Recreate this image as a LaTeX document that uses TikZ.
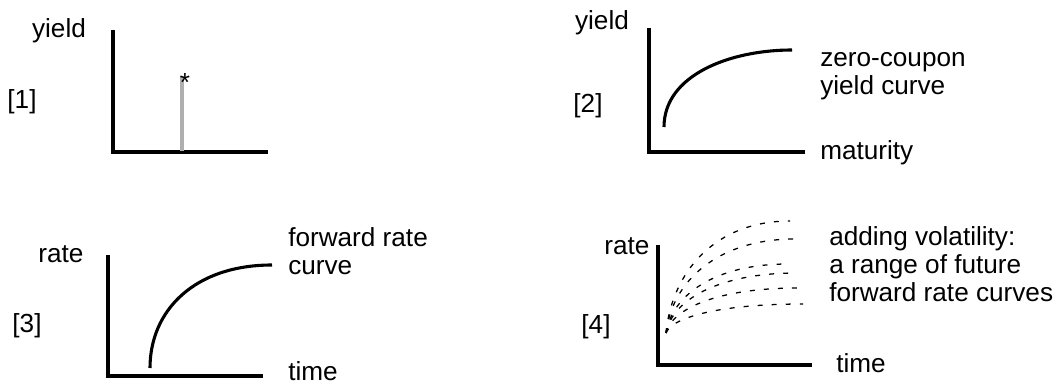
\documentclass[tikz,border=0pt]{standalone}
\usepackage{fontspec}
\setmainfont{Liberation Sans}
\usetikzlibrary{positioning}
\definecolor{stemGray}{RGB}{175,175,175}

\begin{document}
\begin{tikzpicture}[x=0.025cm, y=-0.025cm,
    lbl/.style={inner sep=0pt, font=\fontsize{18.6}{20.2}\selectfont},
    axis/.style={line width=2.8pt, line join=miter},
    curve/.style={line width=2.2pt},
    spread/.style={line width=0.9pt, dash pattern=on 3.5pt off 6.5pt}]
  \useasboundingbox (0,0) rectangle (1058,385);

  % [1] a single yield
  \coordinate (o1) at (113,152);
  \draw[axis] (113,30) -- (o1) -- (268,152);
  \coordinate (s1) at (182,151);
  \coordinate (t1) at (182,76);
  \draw[stemGray, line width=2.8pt] (s1) -- (t1);
  \node[lbl] (star) at (185,83) {*};
  \node[lbl] (y1) at (59,31) {yield};
  \node[lbl] (n1) at (22,102) {[1]};

  % [2] zero-coupon yield curve
  \coordinate (o2) at (649,152);
  \draw[axis] (649,28) -- (o2) -- (805,152);
  \coordinate (a2) at (664,127);
  \coordinate (b2) at (792,50);
  \draw[curve] (a2) .. controls (664,75) and (730,50) .. (b2);
  \node[lbl] (y2) at (602,23) {yield};
  \node[lbl] (n2) at (588,106) {[2]};
  \node[lbl, anchor=base west, align=left] (zc) at (820,95) {zero-coupon\\yield curve};
  \node[lbl, anchor=base west] (mat) at (820,160) {maturity};

  % [3] forward rate curve
  \coordinate (o3) at (108,376);
  \draw[axis] (108,255) -- (o3) -- (263,376);
  \coordinate (a3) at (150,368);
  \coordinate (b3) at (272,265);
  \draw[curve] (a3) .. controls (150,310) and (195,265) .. (b3);
  \node[lbl] (r3) at (61,254) {rate};
  \node[lbl] (n3) at (27,326) {[3]};
  \node[lbl, anchor=base west, align=left] (fr) at (288,275) {forward rate\\curve};
  \node[lbl, anchor=base west] (tm3) at (288,381) {time};

  % [4] a range of forward rate curves
  \coordinate (o4) at (658,365);
  \draw[axis] (658,245) -- (o4) -- (812,365);
  \coordinate (s4) at (666,333);
  \foreach \ex/\ey in {790/221, 795/239, 788/264, 797/273, 798/288, 803/304} {
    \pgfmathsetmacro{\cy}{333-0.55*(333-\ey)}
    \pgfmathsetmacro{\cx}{666+0.4*(\ex-666)}
    \draw[spread] (s4) .. controls (672,\cy) and (\cx,\ey) .. (\ex,\ey);
  }
  \node[lbl] (r4) at (627,246) {rate};
  \node[lbl] (n4) at (596,327) {[4]};
  \node[lbl, anchor=base west, align=left] (vol) at (829,302)
    {adding volatility:\\a range of future\\forward rate curves};
  \node[lbl, anchor=base west] (tm4) at (836,372) {time};
\end{tikzpicture}
\end{document}
